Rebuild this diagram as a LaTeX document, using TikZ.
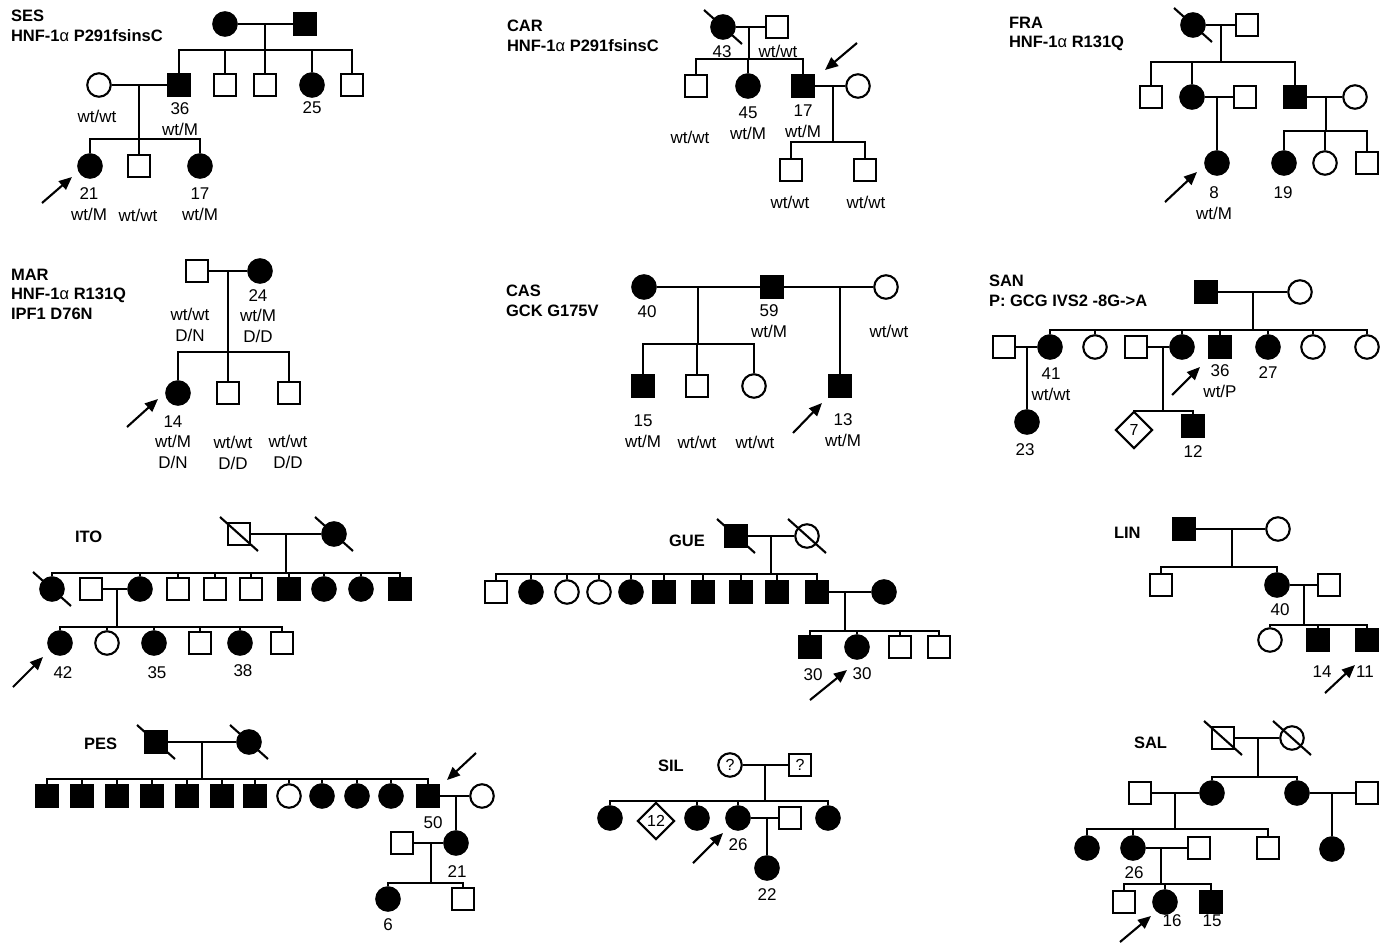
\documentclass[tikz,border=0pt]{standalone}
\usepackage{fontspec}
\setmainfont{Liberation Sans}
\usetikzlibrary{arrows.meta, shapes.geometric}

\tikzset{
  male/.style={draw, rectangle, minimum size=22pt, inner sep=0pt},
  female/.style={draw, circle, minimum size=23.5pt, inner sep=0pt},
  unknown/.style={draw, diamond, minimum size=37pt, inner sep=0pt, font=\fontsize{16}{16}\selectfont},
  aff/.style={fill=black},
  qm/.style={font=\fontsize{16}{16}\selectfont},
  fam/.style={anchor=west, align=left, inner sep=0pt, font=\fontsize{16.5}{19.5}\selectfont\bfseries},
  txt/.style={align=center, inner sep=0pt, font=\fontsize{17}{20.5}\selectfont},
  proband/.style={-{Triangle[length=13pt,width=11pt]}}
}
\newcommand{\deceased}[1]{\draw ([shift={(-19,-17)}]#1.center) -- ([shift={(19,17)}]#1.center);}

\begin{document}
\begin{tikzpicture}[x=1pt, y=-1pt, line width=2.1pt]
\useasboundingbox (0,0) rectangle (1393,943);

% SES
\node[fam] (ses) at (10,26) {SES\\HNF-1{\mdseries α} P291fsinsC};
\node[female, aff] (ses1) at (225,24) {};
\node[male, aff] (ses2) at (305,24) {};
\draw (ses1) -- (ses2);
\coordinate (sesm1) at (265,24);
\coordinate (sess1) at (265,50);
\draw (sesm1) -- (sess1);
\node[male, aff] (ses3) at (179,85) {};
\node[male] (ses4) at (225,85) {};
\node[male] (ses5) at (265,85) {};
\node[female, aff] (ses6) at (312,85) {};
\node[male] (ses7) at (352,85) {};
\foreach \k in {3,...,7} \draw (sess1) -| (ses\k.north);
\node[female] (ses8) at (99,85) {};
\draw (ses8) -- (ses3);
\coordinate (sesm2) at (139,85);
\coordinate (sess2) at (139,139);
\draw (sesm2) -- (sess2);
\node[female, aff] (ses9) at (90,166) {};
\node[male] (ses10) at (139,166) {};
\node[female, aff] (ses11) at (200,166) {};
\foreach \k in {9,10,11} \draw (sess2) -| (ses\k.north);
\node[txt] (ses-t1) at (97,116) {wt/wt};
\node[txt] (ses-t2) at (180,119) {36\\wt/M};
\node[txt] (ses-t3) at (312,108) {25};
\node[txt] (ses-t4) at (89,204) {21\\wt/M};
\node[txt] (ses-t5) at (138,215) {wt/wt};
\node[txt] (ses-t6) at (200,204) {17\\wt/M};
\coordinate (ses-p0) at (42,203);
\coordinate (ses-p1) at (72,177);
\draw[proband] (ses-p0) -- (ses-p1);

% CAR
\node[fam] (car) at (506,36) {CAR\\HNF-1{\mdseries α} P291fsinsC};
\node[female, aff] (car1) at (723,27) {};
\node[male] (car2) at (777,27) {};
\deceased{car1}
\draw (car1) -- (car2);
\coordinate (carm1) at (749,27);
\coordinate (cars1) at (749,59);
\draw (carm1) -- (cars1);
\node[male] (car3) at (696,86) {};
\node[female, aff] (car4) at (748,86) {};
\node[male, aff] (car5) at (803,86) {};
\node[female] (car6) at (858,86) {};
\foreach \k in {3,4,5} \draw (cars1) -| (car\k.north);
\draw (car5) -- (car6);
\coordinate (carm2) at (833,86);
\coordinate (cars2) at (833,142);
\draw (carm2) -- (cars2);
\node[male] (car7) at (791,170) {};
\node[male] (car8) at (865,170) {};
\foreach \k in {7,8} \draw (cars2) -| (car\k.north);
\node[txt] (car-t1) at (722,52) {43};
\node[txt] (car-t2) at (778,51) {wt/wt};
\node[txt] (car-t3) at (690,137) {wt/wt};
\node[txt] (car-t4) at (748,123) {45\\wt/M};
\node[txt] (car-t5) at (803,121) {17\\wt/M};
\node[txt] (car-t6) at (790,202) {wt/wt};
\node[txt] (car-t7) at (866,202) {wt/wt};
\coordinate (car-p0) at (857,43);
\coordinate (car-p1) at (825,70);
\draw[proband] (car-p0) -- (car-p1);

% FRA
\node[fam] (fra) at (1008,34) {FRA\\HNF-1{\mdseries α} R131Q};
\node[female, aff] (fra1) at (1193,25) {};
\node[male] (fra2) at (1247,25) {};
\deceased{fra1}
\draw (fra1) -- (fra2);
\coordinate (fram1) at (1221,25);
\coordinate (fras1) at (1221,62);
\draw (fram1) -- (fras1);
\node[male] (fra3) at (1151,97) {};
\node[female, aff] (fra4) at (1192,97) {};
\node[male] (fra5) at (1245,97) {};
\node[male, aff] (fra6) at (1295,97) {};
\node[female] (fra7) at (1355,97) {};
\foreach \k in {3,4,6} \draw (fras1) -| (fra\k.north);
\draw (fra4) -- (fra5);
\coordinate (fram2) at (1217,97);
\node[female, aff] (fra8) at (1217,163) {};
\draw (fram2) -- (fra8.north);
\draw (fra6) -- (fra7);
\coordinate (fram3) at (1326,97);
\coordinate (fras2) at (1326,131);
\draw (fram3) -- (fras2);
\node[female, aff] (fra9) at (1284,163) {};
\node[female] (fra10) at (1325,163) {};
\node[male] (fra11) at (1367,163) {};
\foreach \k in {9,10,11} \draw (fras2) -| (fra\k.north);
\node[txt] (fra-t1) at (1214,203) {8\\wt/M};
\node[txt] (fra-t2) at (1283,193) {19};
\coordinate (fra-p0) at (1165,202);
\coordinate (fra-p1) at (1197,172);
\draw[proband] (fra-p0) -- (fra-p1);

% MAR
\node[fam] (mar) at (10,294) {MAR\\HNF-1{\mdseries α} R131Q\\IPF1 D76N};
\node[male] (mar1) at (197,271) {};
\node[female, aff] (mar2) at (260,271) {};
\draw (mar1) -- (mar2);
\coordinate (marm1) at (228,271);
\coordinate (mars1) at (228,352);
\draw (marm1) -- (mars1);
\node[female, aff] (mar3) at (178,393) {};
\node[male] (mar4) at (228,393) {};
\node[male] (mar5) at (289,393) {};
\foreach \k in {3,4,5} \draw (mars1) -| (mar\k.north);
\node[txt] (mar-t1) at (190,325) {wt/wt\\D/N};
\node[txt] (mar-t2) at (258,316) {24\\wt/M\\D/D};
\node[txt] (mar-t3) at (173,442) {14\\wt/M\\D/N};
\node[txt] (mar-t4) at (233,453) {wt/wt\\D/D};
\node[txt] (mar-t5) at (288,452) {wt/wt\\D/D};
\coordinate (mar-p0) at (127,427);
\coordinate (mar-p1) at (158,399);
\draw[proband] (mar-p0) -- (mar-p1);

% CAS
\node[fam] (cas) at (505,301) {CAS\\GCK G175V};
\node[female, aff] (cas1) at (644,287) {};
\node[male, aff] (cas2) at (772,287) {};
\node[female] (cas3) at (886,287) {};
\draw (cas1) -- (cas2);
\draw (cas2) -- (cas3);
\coordinate (casm1) at (698,287);
\coordinate (cass1) at (698,344);
\draw (casm1) -- (cass1);
\node[male, aff] (cas4) at (643,386) {};
\node[male] (cas5) at (697,386) {};
\node[female] (cas6) at (754,386) {};
\foreach \k in {4,5,6} \draw (cass1) -| (cas\k.north);
\coordinate (casm2) at (840,287);
\node[male, aff] (cas7) at (840,386) {};
\draw (casm2) -- (cas7.north);
\node[txt] (cas-t1) at (647,312) {40};
\node[txt] (cas-t2) at (769,321) {59\\wt/M};
\node[txt] (cas-t3) at (889,331) {wt/wt};
\node[txt] (cas-t4) at (643,431) {15\\wt/M};
\node[txt] (cas-t5) at (697,442) {wt/wt};
\node[txt] (cas-t6) at (755,442) {wt/wt};
\node[txt] (cas-t7) at (843,430) {13\\wt/M};
\coordinate (cas-p0) at (793,433);
\coordinate (cas-p1) at (822,403);
\draw[proband] (cas-p0) -- (cas-p1);

% SAN
\node[fam] (san) at (988,291) {SAN\\P: GCG IVS2 -8G->A};
\node[male, aff] (san1) at (1206,292) {};
\node[female] (san2) at (1300,292) {};
\draw (san1) -- (san2);
\coordinate (sanm1) at (1253,292);
\coordinate (sans1) at (1253,330);
\draw (sanm1) -- (sans1);
\node[male] (san3) at (1004,347) {};
\node[female, aff] (san4) at (1050,347) {};
\node[female] (san5) at (1095,347) {};
\node[male] (san6) at (1136,347) {};
\node[female, aff] (san7) at (1182,347) {};
\node[male, aff] (san8) at (1220,347) {};
\node[female, aff] (san9) at (1268,347) {};
\node[female] (san10) at (1313,347) {};
\node[female] (san11) at (1367,347) {};
\foreach \k in {4,5,7,8,9,10,11} \draw (sans1) -| (san\k.north);
\draw (san3) -- (san4);
\coordinate (sanm2) at (1027,347);
\node[female, aff] (san12) at (1027,422) {};
\draw (sanm2) -- (san12.north);
\draw (san6) -- (san7);
\coordinate (sanm3) at (1163,347);
\coordinate (sans2) at (1163,411);
\draw (sanm3) -- (sans2);
\node[unknown] (san13) at (1134,430) {7};
\node[male, aff] (san14) at (1193,426) {};
\foreach \k in {13,14} \draw (sans2) -| (san\k.north);
\node[txt] (san-t1) at (1051,384) {41\\wt/wt};
\node[txt] (san-t2) at (1025,450) {23};
\node[txt] (san-t3) at (1220,381) {36\\wt/P};
\node[txt] (san-t4) at (1268,373) {27};
\node[txt] (san-t5) at (1193,452) {12};
\coordinate (san-p0) at (1172,395);
\coordinate (san-p1) at (1200,367);
\draw[proband] (san-p0) -- (san-p1);

% ITO
\node[fam] (ito) at (74,537) {ITO};
\node[male] (ito1) at (239,534) {};
\node[female, aff] (ito2) at (334,534) {};
\deceased{ito1}
\deceased{ito2}
\draw (ito1) -- (ito2);
\coordinate (itom1) at (286,534);
\coordinate (itos1) at (286,573);
\draw (itom1) -- (itos1);
\node[female, aff] (ito3) at (52,589) {};
\deceased{ito3}
\node[male] (ito4) at (91,589) {};
\node[female, aff] (ito5) at (140,589) {};
\node[male] (ito6) at (178,589) {};
\node[male] (ito7) at (215,589) {};
\node[male] (ito8) at (251,589) {};
\node[male, aff] (ito9) at (289,589) {};
\node[female, aff] (ito10) at (324,589) {};
\node[female, aff] (ito11) at (361,589) {};
\node[male, aff] (ito12) at (400,589) {};
\foreach \k in {3,5,6,7,8,9,10,11,12} \draw (itos1) -| (ito\k.north);
\draw (ito4) -- (ito5);
\coordinate (itom2) at (117,589);
\coordinate (itos2) at (117,627);
\draw (itom2) -- (itos2);
\node[female, aff] (ito13) at (60,643) {};
\node[female] (ito14) at (107,643) {};
\node[female, aff] (ito15) at (154,643) {};
\node[male] (ito16) at (200,643) {};
\node[female, aff] (ito17) at (240,643) {};
\node[male] (ito18) at (282,643) {};
\foreach \k in {13,...,18} \draw (itos2) -| (ito\k.north);
\node[txt] (ito-t1) at (63,673) {42};
\node[txt] (ito-t2) at (157,673) {35};
\node[txt] (ito-t3) at (243,671) {38};
\coordinate (ito-p0) at (13,687);
\coordinate (ito-p1) at (43,657);
\draw[proband] (ito-p0) -- (ito-p1);

% GUE
\node[fam] (gue) at (668,541) {GUE};
\node[male, aff] (gue1) at (736,536) {};
\node[female] (gue2) at (807,536) {};
\deceased{gue1}
\deceased{gue2}
\draw (gue1) -- (gue2);
\coordinate (guem1) at (771,536);
\coordinate (gues1) at (771,574);
\draw (guem1) -- (gues1);
\node[male] (gue3) at (496,592) {};
\node[female, aff] (gue4) at (531,592) {};
\node[female] (gue5) at (567,592) {};
\node[female] (gue6) at (599,592) {};
\node[female, aff] (gue7) at (631,592) {};
\node[male, aff] (gue8) at (664,592) {};
\node[male, aff] (gue9) at (703,592) {};
\node[male, aff] (gue10) at (741,592) {};
\node[male, aff] (gue11) at (777,592) {};
\node[male, aff] (gue12) at (817,592) {};
\node[female, aff] (gue13) at (884,592) {};
\foreach \k in {3,...,12} \draw (gues1) -| (gue\k.north);
\draw (gue12) -- (gue13);
\coordinate (guem2) at (845,592);
\coordinate (gues2) at (845,631);
\draw (guem2) -- (gues2);
\node[male, aff] (gue14) at (810,647) {};
\node[female, aff] (gue15) at (857,647) {};
\node[male] (gue16) at (900,647) {};
\node[male] (gue17) at (939,647) {};
\foreach \k in {14,...,17} \draw (gues2) -| (gue\k.north);
\node[txt] (gue-t1) at (813,675) {30};
\node[txt] (gue-t2) at (862,674) {30};
\coordinate (gue-p0) at (810,700);
\coordinate (gue-p1) at (847,670);
\draw[proband] (gue-p0) -- (gue-p1);

% LIN
\node[fam] (lin) at (1113,533) {LIN};
\node[male, aff] (lin1) at (1184,529) {};
\node[female] (lin2) at (1278,529) {};
\draw (lin1) -- (lin2);
\coordinate (linm1) at (1232,529);
\coordinate (lins1) at (1232,567);
\draw (linm1) -- (lins1);
\node[male] (lin3) at (1161,585) {};
\node[female, aff] (lin4) at (1277,585) {};
\node[male] (lin5) at (1329,585) {};
\foreach \k in {3,4} \draw (lins1) -| (lin\k.north);
\draw (lin4) -- (lin5);
\coordinate (linm2) at (1304,585);
\coordinate (lins2) at (1304,625);
\draw (linm2) -- (lins2);
\node[female] (lin6) at (1270,640) {};
\node[male, aff] (lin7) at (1318,640) {};
\node[male, aff] (lin8) at (1367,640) {};
\foreach \k in {6,7,8} \draw (lins2) -| (lin\k.north);
\node[txt] (lin-t1) at (1280,610) {40};
\node[txt] (lin-t2) at (1322,672) {14};
\node[txt] (lin-t3) at (1365,672) {11};
\coordinate (lin-p0) at (1325,693);
\coordinate (lin-p1) at (1355,665);
\draw[proband] (lin-p0) -- (lin-p1);

% PES
\node[fam] (pes) at (83,744) {PES};
\node[male, aff] (pes1) at (156,742) {};
\node[female, aff] (pes2) at (249,742) {};
\deceased{pes1}
\deceased{pes2}
\draw (pes1) -- (pes2);
\coordinate (pesm1) at (202,742);
\coordinate (pess1) at (202,779);
\draw (pesm1) -- (pess1);
\node[male, aff] (pes3) at (47,796) {};
\node[male, aff] (pes4) at (82,796) {};
\node[male, aff] (pes5) at (117,796) {};
\node[male, aff] (pes6) at (152,796) {};
\node[male, aff] (pes7) at (187,796) {};
\node[male, aff] (pes8) at (222,796) {};
\node[male, aff] (pes9) at (255,796) {};
\node[female] (pes10) at (289,796) {};
\node[female, aff] (pes11) at (322,796) {};
\node[female, aff] (pes12) at (357,796) {};
\node[female, aff] (pes13) at (391,796) {};
\node[male, aff] (pes14) at (428,796) {};
\node[female] (pes15) at (482,796) {};
\foreach \k in {3,...,14} \draw (pess1) -| (pes\k.north);
\draw (pes14) -- (pes15);
\coordinate (pesm2) at (456,796);
\node[female, aff] (pes16) at (456,843) {};
\draw (pesm2) -- (pes16.north);
\node[male] (pes17) at (402,843) {};
\draw (pes17) -- (pes16);
\coordinate (pesm3) at (431,843);
\coordinate (pess2) at (431,883);
\draw (pesm3) -- (pess2);
\node[female, aff] (pes18) at (388,899) {};
\node[male] (pes19) at (463,899) {};
\foreach \k in {18,19} \draw (pess2) -| (pes\k.north);
\node[txt] (pes-t1) at (433,823) {50};
\node[txt] (pes-t2) at (457,872) {21};
\node[txt] (pes-t3) at (388,925) {6};
\coordinate (pes-p0) at (476,753);
\coordinate (pes-p1) at (447,780);
\draw[proband] (pes-p0) -- (pes-p1);

% SIL
\node[fam] (sil) at (657,766) {SIL};
\node[female, qm] (sil1) at (730,765) {?};
\node[male, qm] (sil2) at (800,765) {?};
\draw (sil1) -- (sil2);
\coordinate (silm1) at (765,765);
\coordinate (sils1) at (765,801);
\draw (silm1) -- (sils1);
\node[female, aff] (sil3) at (610,818) {};
\node[unknown] (sil4) at (656,821) {12};
\node[female, aff] (sil5) at (697,818) {};
\node[female, aff] (sil6) at (738,818) {};
\node[male] (sil7) at (790,818) {};
\node[female, aff] (sil8) at (828,818) {};
\foreach \k in {3,4,5,6,8} \draw (sils1) -| (sil\k.north);
\draw (sil6) -- (sil7);
\coordinate (silm2) at (767,818);
\node[female, aff] (sil9) at (767,868) {};
\draw (silm2) -- (sil9.north);
\node[txt] (sil-t1) at (738,845) {26};
\node[txt] (sil-t2) at (767,895) {22};
\coordinate (sil-p0) at (693,863);
\coordinate (sil-p1) at (723,833);
\draw[proband] (sil-p0) -- (sil-p1);

% SAL
\node[fam] (sal) at (1133,743) {SAL};
\node[male] (sal1) at (1223,738) {};
\node[female] (sal2) at (1292,738) {};
\deceased{sal1}
\deceased{sal2}
\draw (sal1) -- (sal2);
\coordinate (salm1) at (1258,738);
\coordinate (sals1) at (1258,777);
\draw (salm1) -- (sals1);
\node[male] (sal3) at (1140,793) {};
\node[female, aff] (sal4) at (1212,793) {};
\node[female, aff] (sal5) at (1297,793) {};
\node[male] (sal6) at (1367,793) {};
\foreach \k in {4,5} \draw (sals1) -| (sal\k.north);
\draw (sal3) -- (sal4);
\coordinate (salm2) at (1175,793);
\coordinate (sals2) at (1175,829);
\draw (salm2) -- (sals2);
\draw (sal5) -- (sal6);
\coordinate (salm3) at (1332,793);
\node[female, aff] (sal7) at (1332,849) {};
\draw (salm3) -- (sal7.north);
\node[female, aff] (sal8) at (1087,848) {};
\node[female, aff] (sal9) at (1133,848) {};
\node[male] (sal10) at (1199,848) {};
\node[male] (sal11) at (1268,848) {};
\foreach \k in {8,9,11} \draw (sals2) -| (sal\k.north);
\draw (sal9) -- (sal10);
\coordinate (salm4) at (1161,848);
\coordinate (sals3) at (1161,884);
\draw (salm4) -- (sals3);
\node[male] (sal12) at (1124,902) {};
\node[female, aff] (sal13) at (1165,902) {};
\node[male, aff] (sal14) at (1211,902) {};
\foreach \k in {12,13,14} \draw (sals3) -| (sal\k.north);
\node[txt] (sal-t1) at (1134,873) {26};
\node[txt] (sal-t2) at (1172,921) {16};
\node[txt] (sal-t3) at (1212,921) {15};
\coordinate (sal-p0) at (1120,942);
\coordinate (sal-p1) at (1151,916);
\draw[proband] (sal-p0) -- (sal-p1);
\end{tikzpicture}
\end{document}
